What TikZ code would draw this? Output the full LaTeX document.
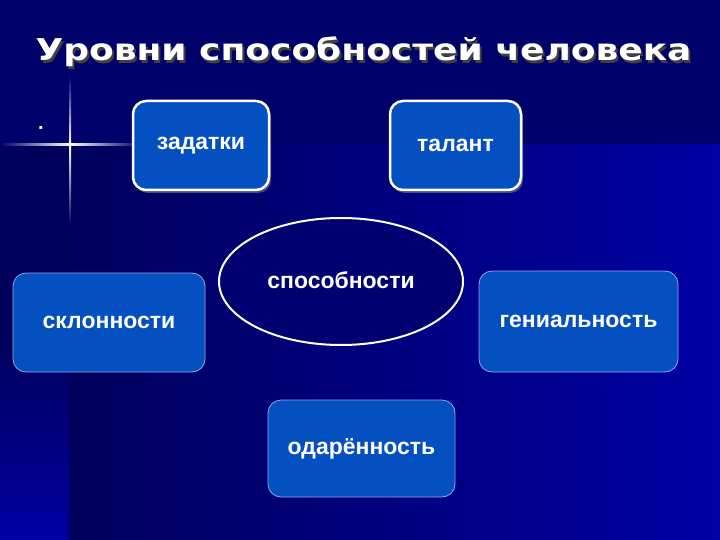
\documentclass[tikz,border=0pt]{standalone}
\usepackage{fontspec}
\setmainfont{Liberation Sans}
\newfontfamily\titlefont[FakeStretch=1.2]{DejaVu Sans}
\usetikzlibrary{shapes.geometric,shadows}

\definecolor{bgtop}{HTML}{00006A}
\definecolor{bgdark}{HTML}{00005C}
\definecolor{bglight}{HTML}{0000A4}
\definecolor{boxfill}{HTML}{0550C0}
\definecolor{thinedge}{HTML}{8FA8E8}
\definecolor{ovalfill}{HTML}{000070}

\tikzstyle{level} = [rectangle, rounded corners=13pt, fill=boxfill, draw=thinedge, line width=0.8pt, text=white, font=\bfseries\fontsize{23}{27}\selectfont, text centered, inner sep=0pt]
\tikzstyle{upper} = [level, draw=white, line width=2.5pt, drop shadow={shadow xshift=2pt, shadow yshift=-3pt, opacity=0.6}]
\tikzstyle{centre} = [ellipse, fill=ovalfill, draw=white, line width=2pt, text=white, font=\bfseries\fontsize{23}{27}\selectfont, inner sep=0pt]
\tikzstyle{heading} = [font=\titlefont\bfseries\fontsize{30}{35}\selectfont, inner sep=0pt, anchor=base]

\begin{document}
\begin{tikzpicture}[x=1pt, y=-1pt]
	% Background
	\fill [bgtop] (0,0) rectangle (720,540);
	\shade [top color=bgdark, bottom color=bglight, middle color=bgdark] (0,145) rectangle (69,540);
	\shade [left color=bgdark, right color=bglight] (69,145) rectangle (720,540);
	% Sparkle
	\shade [left color=bgtop, right color=white] (0,144) rectangle (70,146);
	\shade [left color=white, right color=bgtop] (70,144) rectangle (140,146);
	\shade [top color=bgtop, bottom color=white] (69,75) rectangle (71,145);
	\shade [top color=white, bottom color=bgdark] (69,145) rectangle (71,225);
	% Title
	\node [heading, text=black!75] (TitleShadow) at (365.5,63.5) {Уровни способностей человека};
	\node [heading, text=white] (Title) at (363.5,61) {Уровни способностей человека};
	\node [text=white, font=\bfseries\fontsize{20}{24}\selectfont, inner sep=0pt, anchor=base] (Dot) at (41,130) {.};
	% Place nodes
	\node [upper, minimum width=136pt, minimum height=89pt] (Zadatki) at (201,145.5) {задатки};
	\node [upper, minimum width=131pt, minimum height=89pt] (Talant) at (455.5,145.5) {талант};
	\node [centre, minimum width=244pt, minimum height=127pt] (Sposobnosti) at (341,281.5) {\raisebox{3pt}{способности}};
	\node [level, minimum width=192pt, minimum height=99pt] (Sklonnosti) at (109,322.5) {склонности};
	\node [level, minimum width=199pt, minimum height=101pt] (Genialnost) at (578.5,321.5) {гениальность};
	\node [level, minimum width=187pt, minimum height=97pt] (Odarennost) at (361.5,448.5) {одарённость};
\end{tikzpicture}
\end{document}
